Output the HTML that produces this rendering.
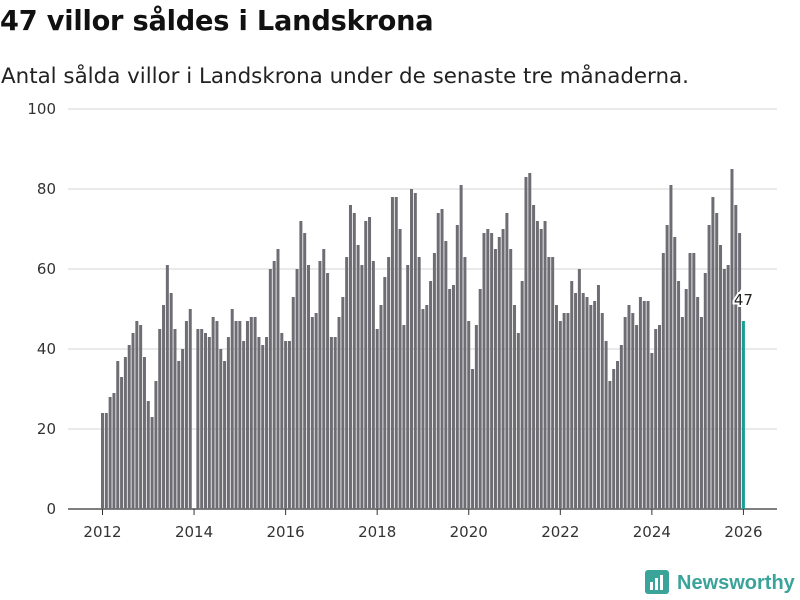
<!DOCTYPE html>
<html><head><meta charset="utf-8">
<style>
body{margin:0;background:#fff;width:800px;height:600px;overflow:hidden;font-family:"DejaVu Sans","Liberation Sans",sans-serif;}
#title{position:absolute;left:0px;top:6px;font-size:27.2px;font-weight:bold;color:#111;margin:0;letter-spacing:-0.2px;}
#sub{position:absolute;left:1px;top:64px;font-size:21.4px;color:#222;margin:0;}
svg{position:absolute;left:0;top:0;}
</style></head><body>
<h1 id="title">47 villor såldes i Landskrona</h1>
<p id="sub">Antal sålda villor i Landskrona under de senaste tre månaderna.</p>
<svg id="chart" width="800" height="600">
<g>
<rect x="645" y="570" width="24" height="24" rx="3" fill="#3aa39a"></rect>
<rect x="650" y="582" width="3" height="8" fill="#fff"></rect>
<rect x="655" y="578" width="3" height="12" fill="#fff"></rect>
<rect x="660" y="575" width="3" height="15" fill="#fff"></rect>
<text x="677" y="589" font-size="20" font-weight="bold" fill="#3aa39a" font-family="Liberation Sans, sans-serif">Newsworthy</text>
</g>
</svg>
<script>
const values2012=[24,24,28,29,37,33,38,41,44,47,46,38];
const values2013=[27,23,32,45,51,61,54,45,37,40,47,50];
const values2014=[0,45,45,44,43,48,47,40,37,43,50,47];
const values2015=[47,42,47,48,48,43,41,43,60,62,65,44];
const values2016=[42,42,53,60,72,69,61,48,49,62,65,59];
const values2017=[43,43,48,53,63,76,74,66,61,72,73,62];
const values2018=[45,51,58,63,78,78,70,46,61,80,79,63];
const values2019=[50,51,57,64,74,75,67,55,56,71,81,63];
const values2020=[47,35,46,55,69,70,69,65,68,70,74,65];
const values2021=[51,44,57,83,84,76,72,70,72,63,63,51];
const values2022=[47,49,49,57,54,60,54,53,51,52,56,49];
const values2023=[42,32,35,37,41,48,51,49,46,53,52,52];
const values2024=[39,45,46,64,71,81,68,57,48,55,64,64];
const values2025=[53,48,59,71,78,74,66,60,61,85,76,69];
const values2026=[47];
const startYear=2012;
const yTicks=[0,20,40,60,80,100];
const xTickYears=[2012,2014,2016,2018,2020,2022,2024,2026];

const values=[].concat(values2012,values2013,values2014,values2015,values2016,values2017,values2018,values2019,values2020,values2021,values2022,values2023,values2024,values2025,values2026);
const NS="http://www.w3.org/2000/svg";
const svg=document.getElementById('chart');
const y0=509,y100=109,x0=102.5,step=3.815;
const yScale=v=>y0-(v/100)*(y0-y100);
const xScale=i=>x0+i*step;
function mk(t,a){const e=document.createElementNS(NS,t);for(const k in a)e.setAttribute(k,a[k]);svg.appendChild(e);return e;}
yTicks.forEach(t=>{
  const l=mk('line',{x1:68,x2:777,y1:yScale(t),y2:yScale(t),stroke:t===0?'#333':'#ddd','stroke-width':t===0?1.3:1.2});
  
  
  const tx=mk('text',{x:56,y:yScale(t)+5,'text-anchor':'end','font-size':15,fill:'#333'});
  tx.textContent=t;
  
  
});
xTickYears.forEach(yr=>{
  const x=xScale((yr-startYear)*12);
  const tk=mk('line',{x1:x,x2:x,y1:y0,y2:y0+6,stroke:'#333','stroke-width':1});
  
  
  const tx=mk('text',{x:x,y:537,'text-anchor':'middle','font-size':15,fill:'#333'});
  tx.textContent=yr;
  
  
});
values.forEach((v,i)=>{
  const last=i===values.length-1;
  const r=mk('rect',{x:xScale(i)-1.5,y:yScale(v),width:3,height:y0-yScale(v),fill:last?'#1a9e94':'#6e6d73'});
  
  
});
const li=values.length-1;
const lbl=mk('text',{x:xScale(li),y:yScale(values[li])-16,'text-anchor':'middle','font-size':15,fill:'#222',stroke:'#fff','stroke-width':4,'paint-order':'stroke'});
lbl.textContent=values[li];


</script>
</body></html>
